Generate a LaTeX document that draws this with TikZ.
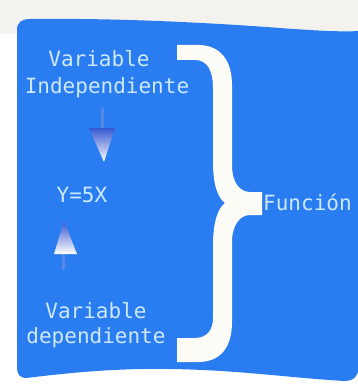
\documentclass[tikz,border=0pt]{standalone}
\usepackage{fontspec}
\newfontfamily\monofam{DejaVu Sans Mono}
\definecolor{panelblue}{HTML}{2A7DF0}
\definecolor{txtblue}{HTML}{CDE8FF}
\definecolor{bracewhite}{HTML}{FDFCF6}
\definecolor{arrowdark}{HTML}{3A4FC8}
\definecolor{bgtop}{HTML}{F4F2EF}
\begin{document}
\begin{tikzpicture}[x=1pt,y=-1pt,
  lbl/.style={font=\monofam\fontsize{21}{24}\selectfont, text=txtblue, inner sep=0pt, anchor=base},
  ahead/.style={left color=arrowdark!80!panelblue, right color=white, shading angle=0},
  astem/.style={draw=arrowdark!45!panelblue!80!white, line width=3pt, line cap=round}]
\useasboundingbox (0,0) rectangle (358,385);
\fill[white] (0,0) rectangle (358,385);
\fill[bgtop] (0,0) rectangle (358,34);
% panel
\fill[panelblue] (17,30) .. controls (17,22) and (22,19) .. (30,19)
  .. controls (110,18) and (200,22) .. (280,28) .. controls (320,31) and (345,32) .. (358,31)
  -- (358,372) .. controls (356,378) and (352,381) .. (345,381)
  .. controls (290,378) and (240,370) .. (170,369) .. controls (110,368) and (60,374) .. (26,378)
  .. controls (20,378) and (17,374) .. (17,368) -- cycle;
% brace
\fill[bracewhite] (177,45) -- (198,45) .. controls (220,45) and (232,60) .. (232,85)
  -- (232,165) .. controls (232,183) and (240,192) .. (250,192) -- (262,192) -- (262,215)
  -- (250,215) .. controls (240,215) and (232,225) .. (232,242)
  -- (232,322) .. controls (232,348) and (220,362) .. (198,362) -- (177,362) -- (177,338)
  -- (195,338) .. controls (207,338) and (213,330) .. (213,318)
  -- (213,245) .. controls (213,222) and (218,208) .. (225,203)
  .. controls (218,198) and (213,185) .. (213,162)
  -- (213,88) .. controls (213,70) and (207,60) .. (195,60) -- (177,60) -- cycle;
% texts
\node[lbl] (v1) at (99,67) {Variable};
\node[lbl] (ind) at (107,94) {Independiente};
\node[lbl] (eq) at (82,202) {Y=5X};
\node[lbl, anchor=base west] (fun) at (263,210) {Función};
\node[lbl] (v2) at (96,318) {Variable};
\node[lbl] (dep) at (96,343) {dependiente};
% down arrow
\coordinate (d1) at (102,109);
\coordinate (d2) at (102,128);
\draw[astem] (d1) -- (d2);
\shade[ahead] (89,128) -- (115,128) -- (104,162) -- cycle;
% up arrow
\coordinate (u1) at (63,254);
\coordinate (u2) at (63,269);
\draw[astem] (u1) -- (u2);
\shade[ahead] (54,254) -- (77,254) -- (64,221) -- cycle;
\end{tikzpicture}
\end{document}
